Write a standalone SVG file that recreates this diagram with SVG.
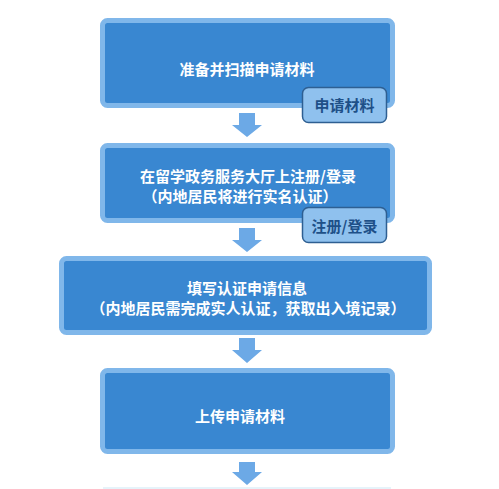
<svg xmlns="http://www.w3.org/2000/svg" width="499" height="489" viewBox="0 0 499 489">
<style>
.box{fill:#3987D1;stroke:#80B7EA;stroke-width:5}
.t{font-family:"Noto Sans CJK SC","Noto Sans",sans-serif;font-size:15px;font-weight:bold;fill:#FFFFFF;text-anchor:middle;dominant-baseline:central}
.tag{fill:#8FC1EE;stroke:#2E5F92;stroke-width:1.5}
.tt{font-family:"Noto Sans CJK SC","Noto Sans",sans-serif;font-size:15px;font-weight:bold;fill:#1E5088;text-anchor:middle;dominant-baseline:central}
.arr{fill:#6CA9E6}
</style>
<rect width="499" height="489" fill="#FFFFFF"/>
<g id="connectors">
<polygon class="arr" points="239,113 255,113 255,125 262,125 247,137 232,125 239,125"/>
<polygon class="arr" points="239,228 255,228 255,240 262,240 247,252 232,240 239,240"/>
<polygon class="arr" points="239,338 255,338 255,350 262,350 247,363 232,350 239,350"/>
<polygon class="arr" points="239,462 255,462 255,472 262,472 247,485 232,472 239,472"/>
</g>
<g id="node1">
<rect class="box" x="102.5" y="20.5" width="290" height="85" rx="5"/>
<text class="t" x="247" y="68">准备并扫描申请材料</text>
</g>
<g id="node2">
<rect class="box" x="102.5" y="145.5" width="290" height="75" rx="5"/>
<text class="t" x="248" y="175">在留学政务服务大厅上注册/登录</text>
<text class="t" x="240" y="195">（内地居民将进行实名认证）</text>
</g>
<g id="node3">
<rect class="box" x="61.5" y="258.5" width="368" height="74" rx="5"/>
<text class="t" x="247" y="287">填写认证申请信息</text>
<text class="t" x="248" y="307">（内地居民需完成实人认证，获取出入境记录）</text>
</g>
<g id="node4">
<rect class="box" x="102.5" y="370.5" width="290" height="81" rx="5"/>
<text class="t" x="240" y="415">上传申请材料</text>
</g>
<g id="tag1">
<rect class="tag" x="302.5" y="87.5" width="84" height="35" rx="6"/>
<text class="tt" x="344.5" y="104">申请材料</text>
</g>
<g id="tag2">
<rect class="tag" x="302.5" y="207.5" width="84" height="35" rx="6"/>
<text class="tt" x="344.5" y="225">注册/登录</text>
</g>
<rect x="103" y="487" width="288" height="2" fill="#E6F3FA"/>
</svg>
